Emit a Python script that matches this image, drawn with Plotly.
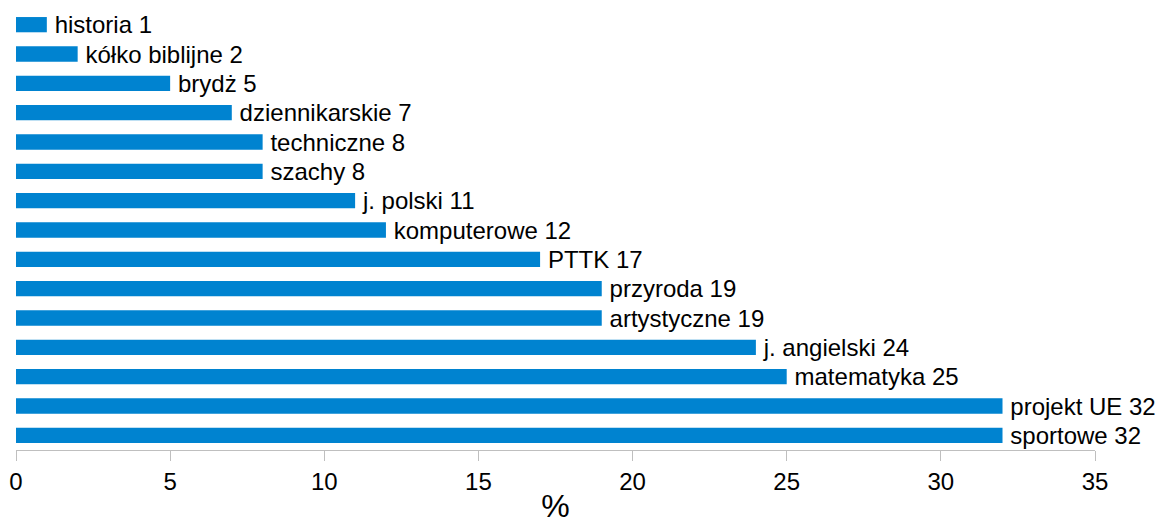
import plotly.graph_objects as go

categories = ["historia", "kółko biblijne", "brydż", "dziennikarskie", "techniczne",
              "szachy", "j. polski", "komputerowe", "PTTK", "przyroda",
              "artystyczne", "j. angielski", "matematyka", "projekt UE", "sportowe"]
values = [1, 2, 5, 7, 8, 8, 11, 12, 17, 19, 19, 24, 25, 32, 32]
x_ticks = [0, 5, 10, 15, 20, 25, 30, 35]

labels = [f"\u2009{c} {v}" for c, v in zip(categories, values)]

fig = go.Figure(go.Bar(
    x=values, y=categories, orientation="h",
    marker=dict(color="#0083d0", line=dict(width=0)),
    text=labels, textposition="outside", cliponaxis=False, constraintext="none",
    textfont=dict(family="Liberation Sans, Arial, sans-serif", size=24, color="#000000"),
    width=0.52,
))

fig.update_layout(
    width=1164, height=522,
    margin=dict(l=8, r=77, t=2, b=80, autoexpand=False),
    plot_bgcolor="white", paper_bgcolor="white",
    showlegend=False,
    font=dict(family="Liberation Sans, Arial, sans-serif", size=24, color="#000000"),
    xaxis=dict(range=[0, 35], tickvals=x_ticks, showgrid=False, zeroline=False,
               automargin=False,
               showline=True, linecolor="#bfbfbf", linewidth=1,
               ticks="outside", ticklen=10, tickcolor="#bfbfbf", tickwidth=1,
               tickfont=dict(size=24),
               title=dict(text="%", font=dict(size=32), standoff=0)),
    yaxis=dict(autorange="reversed", showticklabels=False, showgrid=False,
               automargin=False,
               zeroline=False, showline=False, ticks=""),
)

fig.write_html("out.html")
